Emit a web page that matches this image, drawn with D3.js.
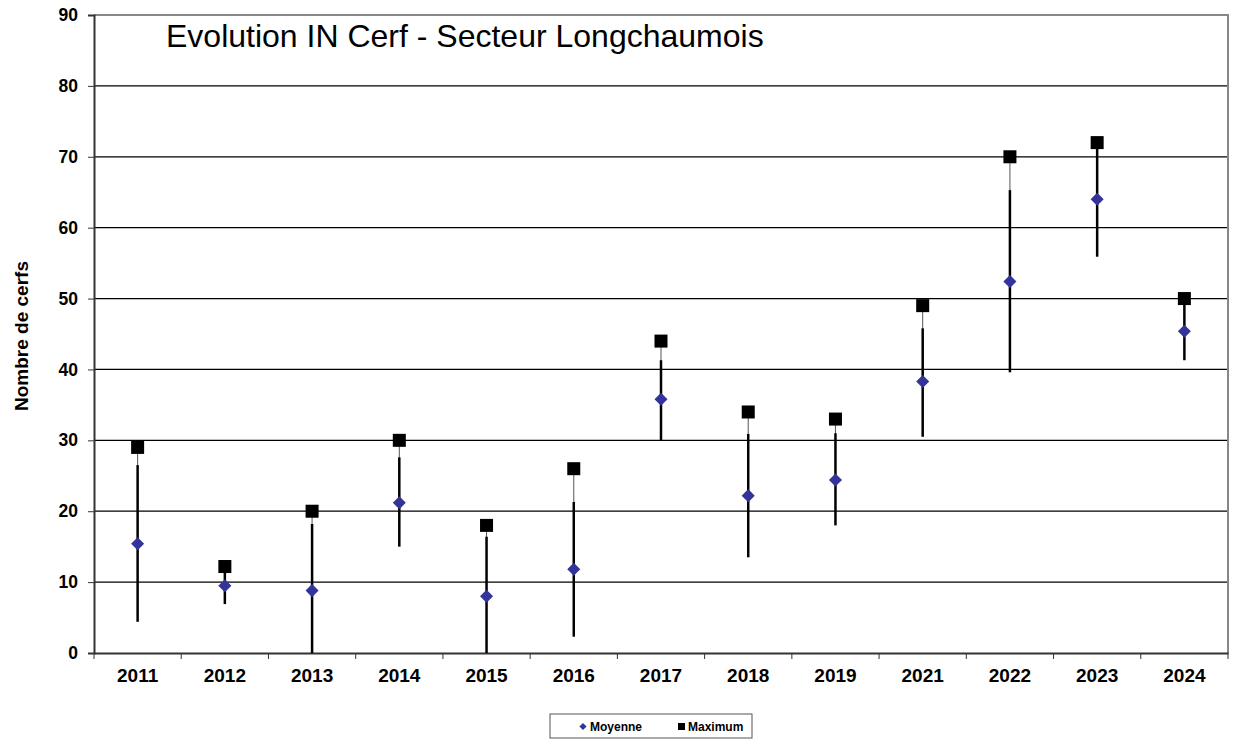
<!DOCTYPE html>
<html>
<head>
<meta charset="utf-8">
<script src="https://cdn.jsdelivr.net/npm/d3@7/dist/d3.min.js"></script>
<style>
  body { margin: 0; background: #fff; }
  text { font-family: "Liberation Sans", Arial, sans-serif; }
</style>
</head>
<body>
<div id="chart"></div>
<script>
// data
var years = ["2011", "2012", "2013", "2014", "2015", "2016", "2017", "2018", "2019", "2021", "2022", "2023", "2024"];
var moyenne = [15.4, 9.5, 8.8, 21.2, 8.0, 11.8, 35.8, 22.2, 24.4, 38.3, 52.4, 64.0, 45.4];
var maximum = [29, 12.2, 20, 30, 18, 26, 44, 34, 33, 49, 70, 72, 50];
var barLow = [4.4, 6.9, 0, 15.0, 0, 2.3, 30.0, 13.5, 18.0, 30.5, 39.6, 55.9, 41.3];
var barHigh = [26.5, 11.4, 18.2, 27.6, 16.4, 21.3, 41.3, 30.9, 31.0, 45.8, 65.3, 71.8, 49.1];
var yTicks = [0, 10, 20, 30, 40, 50, 60, 70, 80, 90];

var W = 1239, H = 749;
var margin = { top: 15, right: 11, bottom: 96, left: 94 },
  width = W - margin.left - margin.right,
  height = H - margin.top - margin.bottom;

var svg = d3.select("#chart").append("svg")
  .attr("width", W)
  .attr("height", H);

var g = svg.append("g")
  .attr("transform", "translate(" + margin.left + "," + margin.top + ")");

var data = years.map(function(y, i) {
  return { year: y, moy: moyenne[i], max: maximum[i], lo: barLow[i], hi: barHigh[i] };
});

// scales
var x = d3.scaleBand().domain(years).range([0, width]);
var y = d3.scaleLinear().domain([0, 90]).range([height, 0]);

// grid lines
g.selectAll(".grid").data(yTicks.slice(1, -1)).enter().append("line")
  .attr("x1", 0).attr("x2", width)
  .attr("y1", function(d) { return y(d); })
  .attr("y2", function(d) { return y(d); })
  .attr("stroke", "#000").attr("stroke-width", 1.2);

// top and right border
g.append("path")
  .attr("d", "M0," + y(90) + "H" + width + "V" + height)
  .attr("fill", "none").attr("stroke", "#888").attr("stroke-width", 2);

// y axis
var yAxis = g.append("g")
  .call(d3.axisLeft(y).tickValues(yTicks).tickSize(6).tickPadding(10));
yAxis.select(".domain").attr("stroke", "#333").attr("stroke-width", 2);
yAxis.selectAll(".tick line").attr("stroke", "#333");
yAxis.selectAll("text")
  .style("font-size", "17.5px").style("font-weight", "bold")
  .style("font-family", "'Liberation Sans', Arial, sans-serif").attr("fill", "#000");

// x axis, ticks between categories
var xAxis = g.append("g")
  .attr("transform", "translate(0," + height + ")")
  .call(d3.axisBottom(x).tickSize(0).tickPadding(16));
xAxis.select(".domain").attr("stroke", "#333").attr("stroke-width", 2);
xAxis.selectAll("text")
  .style("font-size", "19px").style("font-weight", "bold")
  .style("font-family", "'Liberation Sans', Arial, sans-serif").attr("fill", "#000");
xAxis.selectAll(".sep").data(years.concat([null])).enter().append("line")
  .attr("x1", function(d, i) { return i * x.step(); })
  .attr("x2", function(d, i) { return i * x.step(); })
  .attr("y1", 0).attr("y2", 6)
  .attr("stroke", "#333");

var cx = function(d) { return x(d.year) + x.bandwidth() / 2; };

// thin line max -> mean
g.selectAll(".thin").data(data).enter().append("line")
  .attr("x1", cx).attr("x2", cx)
  .attr("y1", function(d) { return y(d.max); })
  .attr("y2", function(d) { return y(d.moy); })
  .attr("stroke", "#555").attr("stroke-width", 1);

// thick error bar
g.selectAll(".bar").data(data).enter().append("line")
  .attr("x1", cx).attr("x2", cx)
  .attr("y1", function(d) { return y(d.lo); })
  .attr("y2", function(d) { return y(d.hi); })
  .attr("stroke", "#000").attr("stroke-width", 2.5);

// maximum squares
g.selectAll(".sq").data(data).enter().append("rect")
  .attr("x", function(d) { return cx(d) - 6.5; })
  .attr("y", function(d) { return y(d.max) - 6.5; })
  .attr("width", 13).attr("height", 13)
  .attr("fill", "#000");

// mean diamonds
var diamond = d3.symbol().type(d3.symbolSquare).size(85);
g.selectAll(".dia").data(data).enter().append("path")
  .attr("d", diamond)
  .attr("transform", function(d) { return "translate(" + cx(d) + "," + y(d.moy) + ") rotate(45)"; })
  .attr("fill", "#333399");

// title
svg.append("text")
  .attr("x", 166).attr("y", 47)
  .style("font-size", "32px")
  .attr("fill", "#000")
  .text("Evolution IN Cerf - Secteur Longchaumois");

// y label
svg.append("text")
  .attr("transform", "translate(28," + 336 + ") rotate(-90)")
  .attr("text-anchor", "middle")
  .style("font-size", "19px").style("font-weight", "bold")
  .text("Nombre de cerfs");

// legend
var leg = svg.append("g").attr("transform", "translate(550,714)");
leg.append("rect").attr("width", 202).attr("height", 24)
  .attr("fill", "#fff").attr("stroke", "#555").attr("stroke-width", 1);
leg.append("path")
  .attr("d", d3.symbol().type(d3.symbolSquare).size(26))
  .attr("transform", "translate(33,12.5) rotate(45)")
  .attr("fill", "#333399");
leg.append("text").attr("x", 40).attr("y", 17)
  .style("font-size", "12px").style("font-weight", "bold").text("Moyenne");
leg.append("rect").attr("x", 128).attr("y", 9).attr("width", 7).attr("height", 7).attr("fill", "#000");
leg.append("text").attr("x", 138).attr("y", 17)
  .style("font-size", "12px").style("font-weight", "bold").text("Maximum");
</script>
</body>
</html>
